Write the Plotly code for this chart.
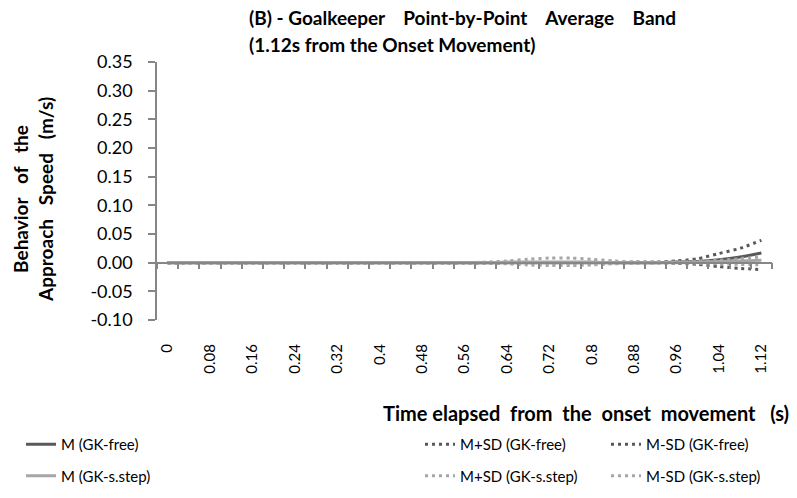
import plotly.graph_objects as go

# Time stamps (s) from the onset movement, one every 0.04 s
time_labels = ["0", "0.04", "0.08", "0.12", "0.16", "0.2", "0.24", "0.28", "0.32", "0.36",
               "0.4", "0.44", "0.48", "0.52", "0.56", "0.6", "0.64", "0.68", "0.72", "0.76",
               "0.8", "0.84", "0.88", "0.92", "0.96", "1", "1.04", "1.08", "1.12"]
shown_labels = ["0", "0.08", "0.16", "0.24", "0.32", "0.4", "0.48", "0.56",
                "0.64", "0.72", "0.8", "0.88", "0.96", "1.04", "1.12"]

# Speed axis ticks
y_ticks = [-0.10, -0.05, 0.00, 0.05, 0.10, 0.15, 0.20, 0.25, 0.30, 0.35]
y_tick_text = ["-0.10", "-0.05", "0.00", "0.05", "0.10", "0.15", "0.20", "0.25", "0.30", "0.35"]

# Approach speed (m/s) - GK-free condition
m_free = [0, 0, 0, 0, 0, 0, 0, 0, 0, 0, 0, 0, 0, 0, 0, 0, 0, 0, 0, 0,
          0, 0, 0, 0, 0.001, 0.002, 0.005, 0.010, 0.017]
m_plus_sd_free = [0, 0, 0, 0, 0, 0, 0, 0, 0, 0, 0, 0, 0, 0, 0, 0, 0, 0, 0, 0,
                  0, 0, 0.001, 0.001, 0.003, 0.007, 0.016, 0.025, 0.039]
m_minus_sd_free = [0, 0, 0, 0, 0, 0, 0, 0, 0, 0, 0, 0, 0, 0, 0, 0, 0, 0, 0, 0,
                   0, 0, 0, 0, -0.001, -0.003, -0.007, -0.010, -0.012]

# Approach speed (m/s) - GK-s.step condition
m_step = [0, 0, 0, 0, 0, 0, 0, 0, 0, 0, 0, 0, 0, 0, 0, 0, 0.001, 0.001, 0.001, 0.001,
          0.001, 0, 0, 0, 0, 0.001, 0.002, 0.003, 0.004]
m_plus_sd_step = [0, 0, 0, 0, 0, 0, 0, 0, 0, 0, 0, 0, 0, 0, 0, 0.001, 0.003, 0.006, 0.008, 0.008,
                  0.006, 0.003, 0.001, 0.001, 0.001, 0.002, 0.004, 0.007, 0.010]
m_minus_sd_step = [0, 0, 0, 0, 0, 0, 0, 0, 0, 0, 0, 0, 0, 0, 0, 0, -0.002, -0.004, -0.005, -0.005,
                   -0.004, -0.002, -0.001, 0, 0, -0.001, -0.002, -0.003, -0.004]

DARK = "#595959"
LIGHT = "#a6a6a6"
AXIS = "#868686"
FONT = "Lato"
BLACK = "#000000"

x = list(range(len(time_labels)))
label_pos = [time_labels.index(t) for t in shown_labels]

series = [
    ("M (GK-free)", m_free, DARK, "solid", "legend"),
    ("M+SD (GK-free)", m_plus_sd_free, DARK, "3px,4px", "legend2"),
    ("M-SD (GK-free)", m_minus_sd_free, DARK, "3px,4px", "legend3"),
    ("M (GK-s.step)", m_step, LIGHT, "solid", "legend"),
    ("M+SD (GK-s.step)", m_plus_sd_step, LIGHT, "3px,4px", "legend2"),
    ("M-SD (GK-s.step)", m_minus_sd_step, LIGHT, "3px,4px", "legend3"),
]

fig = go.Figure()
for name, vals, color, dash, leg in series:
    fig.add_trace(go.Scatter(
        x=x, y=vals, name=name, mode="lines", legend=leg, legendgroup=name,
        line=dict(color=color, width=3, dash=dash, shape="spline", smoothing=0.6),
        hoverinfo="skip",
    ))

# carrier trace for the category axis drawn through y = 0
fig.add_trace(go.Scatter(x=x, y=m_free, xaxis="x2", mode="lines",
                         line=dict(width=0), showlegend=False, hoverinfo="skip"))

W, H = 797, 498
L, R, T, B = 157, 25, 62, 178
PW, PH = W - L - R, H - T - B
ymin, ymax = -0.10, 0.35
zero_frac = (0 - ymin) / (ymax - ymin)


def px_x(px):
    return (px - L) / PW


def px_y(py):
    return 1 - (py - T) / PH


fig.update_layout(
    width=W, height=H,
    margin=dict(l=L, r=R, t=T, b=B, autoexpand=False),
    paper_bgcolor="white", plot_bgcolor="white",
    font=dict(family=FONT, color=BLACK),
    xaxis=dict(
        range=[-0.5, len(x) - 0.5], tickmode="array", tickvals=label_pos, ticktext=shown_labels,
        tickangle=-90, showline=False, showgrid=False, zeroline=False,
        ticks="outside", ticklen=17, tickcolor="rgba(0,0,0,0)",
        tickfont=dict(size=15, family=FONT, color=BLACK), automargin=False,
    ),
    xaxis2=dict(
        overlaying="x", anchor="free", position=zero_frac,
        range=[-0.5, len(x) - 0.5], tickmode="linear", tick0=-0.5, dtick=1,
        ticks="outside", ticklen=6, tickwidth=1.5, tickcolor=AXIS,
        showline=True, linecolor=AXIS, linewidth=1.5,
        showticklabels=False, showgrid=False, zeroline=False, automargin=False,
    ),
    yaxis=dict(
        range=[ymin, ymax], tickmode="array", tickvals=y_ticks, ticktext=y_tick_text,
        showline=True, linecolor=AXIS, linewidth=1.5, ticks="outside", ticklen=7,
        tickwidth=1.5, tickcolor=AXIS, showgrid=False, zeroline=False, automargin=False,
        ticklabelstandoff=12, tickfont=dict(size=18, family=FONT, color=BLACK),
    ),
    annotations=[
        dict(text="<b>(B) - Goalkeeper&nbsp;&nbsp;&nbsp; Point-by-Point&nbsp;&nbsp;&nbsp; "
                  "Average&nbsp;&nbsp;&nbsp; Band</b>",
             xref="paper", yref="paper", x=px_x(247), y=px_y(18),
             xanchor="left", yanchor="middle", showarrow=False,
             font=dict(size=19, family=FONT, color=BLACK)),
        dict(text="<b>(1.12s from the Onset Movement)</b>",
             xref="paper", yref="paper", x=px_x(247), y=px_y(45),
             xanchor="left", yanchor="middle", showarrow=False,
             font=dict(size=19, family=FONT, color=BLACK)),
        dict(text="<b>Behavior&nbsp;&nbsp; of&nbsp;&nbsp; the<br>Approach&nbsp;&nbsp; Speed&nbsp;&nbsp; (m/s)</b>",
             xref="paper", yref="paper", x=px_x(33), y=px_y(200),
             xanchor="center", yanchor="middle", textangle=-90, showarrow=False,
             font=dict(size=19, family=FONT, color=BLACK)),
        dict(text="<b>Time elapsed&nbsp; from&nbsp; the&nbsp; onset&nbsp; movement&nbsp;&nbsp; (s)</b>",
             xref="paper", yref="paper", x=px_x(791), y=px_y(413),
             xanchor="right", yanchor="middle", showarrow=False,
             font=dict(size=20, family=FONT, color=BLACK)),
    ],
)

legend_common = dict(
    orientation="v", xref="container", yref="container", yanchor="top", xanchor="left",
    y=1 - 428 / H, bgcolor="rgba(0,0,0,0)", tracegroupgap=9,
    font=dict(size=15, family=FONT, color=BLACK),
)
fig.update_layout(
    legend=dict(x=21 / W, **legend_common),
    legend2=dict(x=420 / W, **legend_common),
    legend3=dict(x=606 / W, **legend_common),
)

fig.write_html("out.html")
